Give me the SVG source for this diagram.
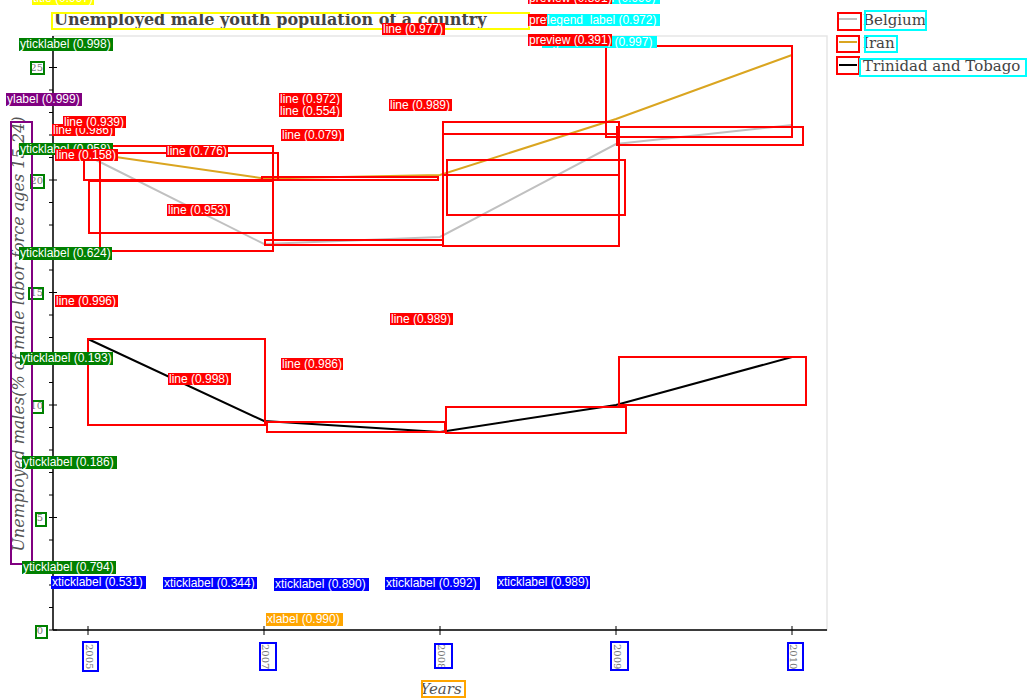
<svg xmlns="http://www.w3.org/2000/svg" width="1029" height="700" viewBox="0 0 1029 700">
<style>
.ttl{font-family:"DejaVu Serif","Liberation Serif",serif;font-weight:bold;font-size:16px;fill:#444}
.lg{font-family:"DejaVu Serif","Liberation Serif",serif;font-size:15px;fill:#444}
.ax{font-family:"DejaVu Serif","Liberation Serif",serif;font-style:italic;font-size:15px;fill:#555}
.ay{font-family:"DejaVu Serif","Liberation Serif",serif;font-style:italic;font-size:16px;fill:#555}
.tk{font-family:"DejaVu Serif","Liberation Serif",serif;font-size:10px;fill:#777}
.lb{font-family:"Liberation Sans",Arial,sans-serif;font-size:12px;fill:#fff}
.r{fill:none;stroke:#f00;stroke-width:2}
.g{fill:none;stroke:#008000;stroke-width:2}
.b{fill:none;stroke:#00f;stroke-width:2}
.c{fill:none;stroke:#0ff;stroke-width:2}
.o{fill:none;stroke:#ffa500;stroke-width:2}
.p{fill:none;stroke:#800080;stroke-width:2}
.y{fill:none;stroke:#ff0;stroke-width:2}
</style>
<rect width="1029" height="700" fill="#fff"/>
<g id="frame">
<rect x="53" y="36" width="774" height="594" fill="none" stroke="#e6e6e6" stroke-width="1.5"/>
<line x1="53" y1="36" x2="53" y2="630" stroke="#000" stroke-width="1.5"/>
<line x1="53" y1="630" x2="827" y2="630" stroke="#000" stroke-width="1.5"/>
</g>
<g id="yticks" stroke="#000" stroke-width="1">
<path d="M49 630H57M49 517.5H57M49 405H57M49 292.5H57M49 180H57M49 67.5H57"/>
<path d="M49 607.5H53M49 585H53M49 562.5H53M49 540H53M49 495H53M49 472.5H53M49 450H53M49 427.5H53M49 382.5H53M49 360H53M49 337.5H53M49 315H53M49 270H53M49 247.5H53M49 225H53M49 202.5H53M49 157.5H53M49 135H53M49 112.5H53M49 90H53M49 45H53"/>
</g>
<g id="xticks">
<path d="M88 626V635M264 626V635M440 626V635M616 626V635M792 626V635" stroke="#000" stroke-width="1"/>
</g>
<g id="yticklabels" class="tk" text-anchor="end">
<text x="43" y="634">0</text><text x="43" y="521">5</text><text x="43" y="409">10</text><text x="43" y="296">15</text><text x="43" y="184">20</text><text x="43" y="71">25</text>
</g>
<g id="xticklabels" class="tk">
<text transform="translate(86,644) rotate(90)">2005</text>
<text transform="translate(262,644) rotate(90)">2007</text>
<text transform="translate(438,644) rotate(90)">2008</text>
<text transform="translate(614,644) rotate(90)">2009</text>
<text transform="translate(790,644) rotate(90)">2010</text>
</g>
<g id="title"><text class="ttl" x="54" y="25">Unemployed male youth population of a country</text></g>
<g id="xlabel"><text class="ax" x="441" y="694" text-anchor="middle">Years</text></g>
<g id="ylabel"><text class="ay" transform="translate(24,334) rotate(-90)" text-anchor="middle">Unemployed males(% of male labor force ages 15-24)</text></g>
<g id="series" fill="none" stroke-width="2">
<polyline id="belgium" points="88,156 264,244 440,237 616,144 792,125" stroke="#c0c0c0"/>
<polyline id="iran" points="88,153 264,178.5 440,175 616,119 792,55" stroke="#daa520"/>
<polyline id="trinidad" points="88,339 264,421 440,432 616,405 792,357" stroke="#000"/>
</g>
<g id="legend">
<line x1="839" y1="19" x2="857" y2="19" stroke="#c0c0c0" stroke-width="2"/>
<line x1="839" y1="42" x2="857" y2="42" stroke="#daa520" stroke-width="2"/>
<line x1="839" y1="65" x2="857" y2="65" stroke="#000" stroke-width="2"/>
<text class="lg" x="863" y="25">Belgium</text>
<text class="lg" x="863" y="48">Iran</text>
<text class="lg" x="863" y="71">Trinidad and Tobago</text>
</g>
<g id="boxes">
<rect class="r" x="100" y="146" width="173" height="105"/>
<rect class="r" x="84" y="153" width="194" height="27"/>
<rect class="r" x="89" y="181" width="184" height="52"/>
<rect class="r" x="262" y="177" width="176" height="3"/>
<rect class="r" x="265" y="240" width="178" height="5"/>
<rect class="r" x="443" y="122" width="176" height="53"/>
<rect class="r" x="443" y="134" width="176" height="112"/>
<rect class="r" x="447" y="160" width="178" height="55"/>
<rect class="r" x="606" y="46" width="186" height="91"/>
<rect class="r" x="617" y="127" width="186" height="18"/>
<rect class="r" x="88" y="339" width="177" height="86"/>
<rect class="r" x="267" y="422" width="178" height="10"/>
<rect class="r" x="446" y="407" width="180" height="26"/>
<rect class="r" x="619" y="357" width="187" height="48"/>
<rect class="r" x="838" y="13" width="23" height="17"/>
<rect class="r" x="837" y="36" width="22" height="16"/>
<rect class="r" x="837" y="57" width="22" height="17"/>
<rect class="c" x="865" y="11" width="61" height="19"/>
<rect class="c" x="865" y="36" width="32" height="16"/>
<rect class="c" x="860" y="59" width="166" height="17"/>
<rect class="g" x="31" y="62" width="13" height="12"/>
<rect class="g" x="31" y="175" width="13" height="13"/>
<rect class="g" x="29" y="288" width="14" height="11"/>
<rect class="g" x="32" y="401" width="11" height="12"/>
<rect class="g" x="36" y="513" width="10" height="13"/>
<rect class="g" x="36" y="626" width="11" height="12"/>
<rect class="b" x="83" y="642" width="15" height="29"/>
<rect class="b" x="260" y="643" width="16" height="27"/>
<rect class="b" x="435" y="644" width="17" height="24"/>
<rect class="b" x="611" y="642" width="17" height="28"/>
<rect class="b" x="788" y="643" width="15" height="27"/>
<rect class="o" x="422" y="681" width="43" height="16"/>
<rect class="p" x="11" y="122" width="21" height="442"/>
<rect class="y" x="52" y="13" width="477" height="16"/>
</g>
<g id="labels">
<rect x="32" y="-8" width="62" height="13" fill="#ff0"/><text class="lb" x="33" y="2">title (0.997)</text>
<rect x="19" y="38" width="94" height="13" fill="#008000"/><text class="lb" x="20" y="48">yticklabel (0.998)</text>
<rect x="6" y="93" width="76" height="13" fill="#800080"/><text class="lb" x="7" y="103">ylabel (0.999)</text>
<rect x="52" y="124" width="63" height="12" fill="#f00"/><text class="lb" x="53" y="134">line (0.986)</text>
<rect x="63" y="116" width="63" height="12" fill="#f00"/><text class="lb" x="64" y="126">line (0.939)</text>
<rect x="19" y="143" width="94" height="12" fill="#008000"/><text class="lb" x="20" y="153">yticklabel (0.958)</text>
<rect x="55" y="149" width="63" height="12" fill="#f00"/><text class="lb" x="56" y="159">line (0.158)</text>
<rect x="166" y="145" width="62" height="12" fill="#f00"/><text class="lb" x="167" y="155">line (0.776)</text>
<rect x="167" y="204" width="63" height="12" fill="#f00"/><text class="lb" x="168" y="214">line (0.953)</text>
<rect x="279" y="93" width="63" height="12" fill="#f00"/><text class="lb" x="280" y="103">line (0.972)</text>
<rect x="279" y="105" width="63" height="12" fill="#f00"/><text class="lb" x="280" y="115">line (0.554)</text>
<rect x="281" y="129" width="63" height="12" fill="#f00"/><text class="lb" x="282" y="139">line (0.079)</text>
<rect x="382" y="23" width="63" height="12" fill="#f00"/><text class="lb" x="383" y="33">line (0.977)</text>
<rect x="389" y="99" width="63" height="12" fill="#f00"/><text class="lb" x="390" y="109">line (0.989)</text>
<rect x="545" y="-8" width="115" height="12" fill="#0ff"/><text class="lb" x="546" y="2">legend_label (0.999)</text>
<rect x="528" y="-8" width="84" height="12" fill="#f00"/><text class="lb" x="529" y="2">preview (0.891)</text>
<rect x="528" y="14" width="84" height="12" fill="#f00"/><text class="lb" x="529" y="24">preview (0.997)</text>
<rect x="547" y="14" width="113" height="12" fill="#0ff"/><text class="lb" x="547" y="24">legend_label (0.972)</text>
<rect x="542" y="36" width="115" height="12" fill="#0ff"/><text class="lb" x="543" y="46">legend_label (0.997)</text>
<rect x="528" y="34" width="84" height="12" fill="#f00"/><text class="lb" x="529" y="44">preview (0.391)</text>
<rect x="19" y="247" width="93" height="13" fill="#008000"/><text class="lb" x="20" y="257">yticklabel (0.624)</text>
<rect x="55" y="295" width="63" height="12" fill="#f00"/><text class="lb" x="56" y="305">line (0.996)</text>
<rect x="390" y="313" width="63" height="12" fill="#f00"/><text class="lb" x="391" y="323">line (0.989)</text>
<rect x="20" y="352" width="93" height="13" fill="#008000"/><text class="lb" x="21" y="362">yticklabel (0.193)</text>
<rect x="281" y="358" width="62" height="12" fill="#f00"/><text class="lb" x="282" y="368">line (0.986)</text>
<rect x="168" y="373" width="63" height="12" fill="#f00"/><text class="lb" x="169" y="383">line (0.998)</text>
<rect x="22" y="456" width="95" height="13" fill="#008000"/><text class="lb" x="23" y="466">yticklabel (0.186)</text>
<rect x="22" y="561" width="94" height="13" fill="#008000"/><text class="lb" x="23" y="571">yticklabel (0.794)</text>
<rect x="51" y="576" width="95" height="13" fill="#00f"/><text class="lb" x="52" y="586">xticklabel (0.531)</text>
<rect x="163" y="577" width="94" height="12" fill="#00f"/><text class="lb" x="164" y="587">xticklabel (0.344)</text>
<rect x="274" y="578" width="95" height="13" fill="#00f"/><text class="lb" x="275" y="588">xticklabel (0.890)</text>
<rect x="385" y="577" width="95" height="13" fill="#00f"/><text class="lb" x="386" y="587">xticklabel (0.992)</text>
<rect x="497" y="576" width="93" height="13" fill="#00f"/><text class="lb" x="498" y="586">xticklabel (0.989)</text>
<rect x="266" y="613" width="77" height="13" fill="#ffa500"/><text class="lb" x="267" y="623">xlabel (0.990)</text>
</g>
</svg>
